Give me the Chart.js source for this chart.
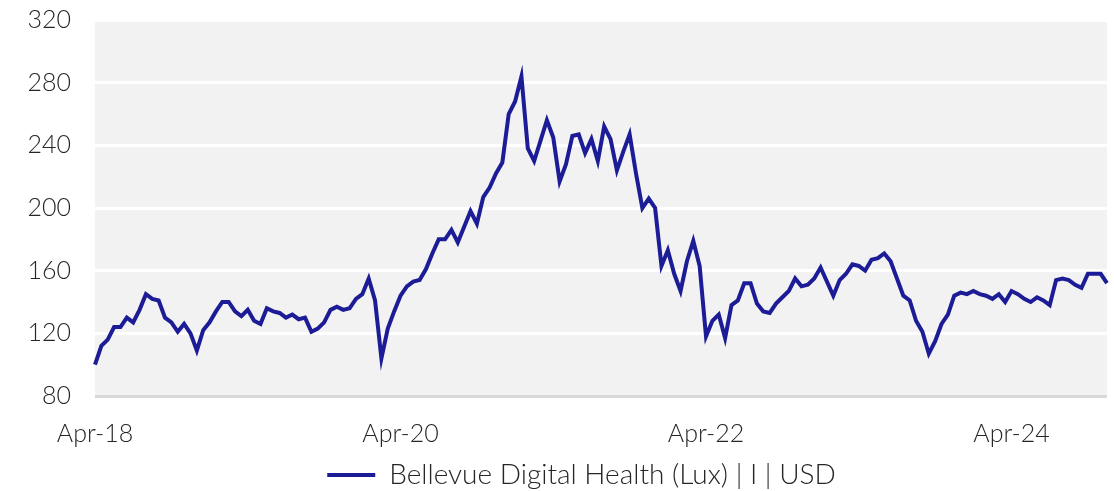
<!DOCTYPE html>
<html lang="en">
  <head>
    <meta charset="UTF-8" />
    <title>Bellevue Digital Health</title>
    <style>
      html, body {
        margin: 0;
        padding: 0;
        background: #fff;
      }
      #wrap {
        width: 1114px;
        height: 491px;
        position: relative;
      }
    </style>
  </head>
  <body>
    <div id="wrap">
      <canvas id="navChart"></canvas>
    </div>

    <script src="https://cdn.jsdelivr.net/npm/chart.js@4.4.1/dist/chart.umd.min.js"></script>
    <script>
      // half-month steps starting Apr-18
      const startYear = 2018;
      const startMonth = 3; // April, 0-based
      const monthNames = ["Jan", "Feb", "Mar", "Apr", "May", "Jun", "Jul", "Aug", "Sep", "Oct", "Nov", "Dec"];
      const tickEvery = 48; // every 2 years -> Apr-18, Apr-20, Apr-22, Apr-24

      const seriesName = "Bellevue Digital Health (Lux) | I | USD";

      const nav = [
        100, 112, 116, 124, 124, 130, 127, 135, 145, 142,
        141, 130, 127, 121, 126, 120, 109, 122, 127, 134,
        140, 140, 134, 131, 135, 128, 126, 136, 134, 133,
        130, 132, 129, 130, 121, 123, 127, 135, 137, 135,
        136, 142, 145, 155, 141, 104, 123, 134, 144, 150,
        153, 154, 161, 171, 180, 180, 186, 178, 188, 198,
        190, 207, 213, 222, 229, 260, 268, 284, 238, 230,
        243, 256, 245, 217, 228, 246, 247, 235, 244, 230,
        252, 244, 224, 236, 247, 222, 200, 206, 200, 163,
        173, 158, 147, 166, 179, 163, 118, 128, 132, 117,
        138, 141, 152, 152, 139, 134, 133, 139, 143, 147,
        155, 150, 151, 155, 162, 153, 144, 154, 158, 164,
        163, 160, 167, 168, 171, 166, 155, 144, 141, 128,
        121, 107, 115, 126, 132, 144, 146, 145, 147, 145,
        144, 142, 145, 140, 147, 145, 142, 140, 143, 141,
        138, 154, 155, 154, 151, 149, 158, 158, 158, 152
      ];

      const yMin = 80;
      const yMax = 320;
      const yStep = 40;

      const labels = nav.map((v, i) => {
        const m = startMonth + Math.floor(i / 2);
        const yy = startYear + Math.floor(m / 12);
        return monthNames[m % 12] + "-" + String(yy).slice(2);
      });

      const lineColor = "#1c1c96";
      const textColor = "#262626";
      const fontFamily = "Lato, 'Open Sans', sans-serif";
      const clear = "rgba(0,0,0,0)";

      const plotBg = {
        id: "plotBg",
        beforeDraw(chart) {
          const { ctx, chartArea: a } = chart;
          ctx.save();
          ctx.fillStyle = "#f2f2f2";
          ctx.fillRect(a.left, a.top, a.right - a.left, a.bottom - a.top);
          ctx.restore();
        },
      };

      // nudge the legend a bit right and down
      const legendShift = {
        id: "legendShift",
        afterLayout(chart) {
          const lg = chart.legend;
          if (!lg) return;
          lg.left += 28;
          lg.right += 28;
          lg.top += 10;
          lg.bottom += 10;
        },
      };

      new Chart("navChart", {
        type: "line",
        data: {
          labels: labels,
          datasets: [
            {
              label: seriesName,
              data: nav,
              borderColor: lineColor,
              backgroundColor: lineColor,
              borderWidth: 4,
              pointRadius: 0,
              tension: 0,
            },
          ],
        },
        options: {
          responsive: true,
          maintainAspectRatio: false,
          animation: false,
          layout: {
            padding: { top: 20, right: 7, bottom: 2, left: 0 },
          },
          plugins: {
            tooltip: { enabled: false },
            legend: {
              position: "bottom",
              labels: {
                usePointStyle: true,
                pointStyle: "line",
                pointStyleWidth: 48,
                boxHeight: 4,
                color: textColor,
                padding: 2,
                font: { family: fontFamily, size: 28, weight: "300" },
              },
            },
          },
          scales: {
            x: {
              type: "category",
              offset: false,
              afterFit: (s) => {
                s.height -= 23;
                s.paddingRight = 0;
              },
              grid: { display: false, drawTicks: false },
              border: { display: false },
              ticks: {
                autoSkip: false,
                maxRotation: 0,
                padding: 23,
                color: textColor,
                font: { family: fontFamily, size: 25, weight: "300" },
                callback: function (val, i) {
                  return i % tickEvery === 0 ? labels[i] : "";
                },
              },
            },
            y: {
              min: yMin,
              max: yMax,
              afterFit: (s) => {
                s.width = 95;
              },
              grid: {
                drawTicks: true,
                tickLength: 24,
                tickColor: clear,
                lineWidth: 3,
                color: (c) => (c.tick && c.tick.value === yMin ? "#d9d9d9" : "#ffffff"),
              },
              border: { display: false },
              ticks: {
                stepSize: yStep,
                padding: 0,
                color: textColor,
                font: { family: fontFamily, size: 25, weight: "300" },
              },
            },
          },
        },
        plugins: [plotBg, legendShift],
      });
    </script>
  </body>
</html>
